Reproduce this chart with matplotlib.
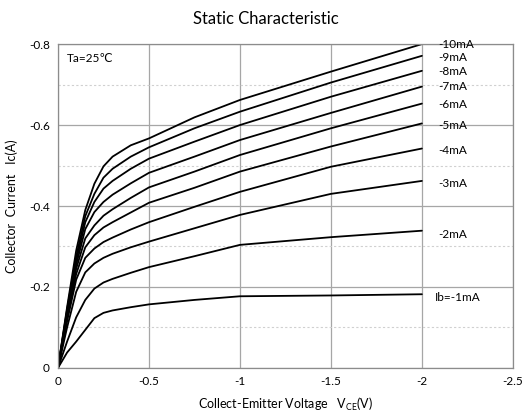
import matplotlib.pyplot as plt
from matplotlib.ticker import FuncFormatter, MultipleLocator

plt.rcParams['font.family'] = ['Lato', 'DejaVu Sans']
plt.rcParams['axes.unicode_minus'] = False
plt.rcParams['mathtext.default'] = 'regular'

# collector-emitter voltage (V), plotted as negative values
vce = [0, 0.05, 0.1, 0.15, 0.2, 0.25, 0.3, 0.4, 0.5, 0.75, 1.0, 1.5, 2.0]

# collector current (A) for each base current
ic_1mA = [0, 0.038, 0.065, 0.094, 0.123, 0.136, 0.142, 0.150, 0.157, 0.168, 0.177, 0.179, 0.182]
ic_2mA = [0, 0.065, 0.125, 0.168, 0.196, 0.211, 0.220, 0.235, 0.249, 0.276, 0.304, 0.323, 0.339]
ic_3mA = [0, 0.100, 0.188, 0.236, 0.258, 0.272, 0.282, 0.298, 0.312, 0.345, 0.378, 0.430, 0.462]
ic_4mA = [0, 0.115, 0.218, 0.272, 0.295, 0.311, 0.322, 0.342, 0.360, 0.398, 0.435, 0.497, 0.542]
ic_5mA = [0, 0.125, 0.232, 0.298, 0.328, 0.347, 0.360, 0.384, 0.408, 0.445, 0.485, 0.547, 0.604]
ic_6mA = [0, 0.130, 0.245, 0.320, 0.352, 0.376, 0.392, 0.420, 0.446, 0.485, 0.526, 0.592, 0.653]
ic_7mA = [0, 0.135, 0.255, 0.343, 0.385, 0.410, 0.428, 0.456, 0.482, 0.522, 0.563, 0.630, 0.695]
ic_8mA = [0, 0.140, 0.265, 0.360, 0.410, 0.443, 0.462, 0.492, 0.517, 0.559, 0.600, 0.670, 0.734]
ic_9mA = [0, 0.145, 0.275, 0.375, 0.430, 0.470, 0.492, 0.522, 0.545, 0.592, 0.633, 0.705, 0.771]
ic_10mA = [0, 0.150, 0.290, 0.390, 0.455, 0.498, 0.522, 0.550, 0.567, 0.619, 0.662, 0.732, 0.800]

curves = [ic_1mA, ic_2mA, ic_3mA, ic_4mA, ic_5mA, ic_6mA, ic_7mA, ic_8mA, ic_9mA, ic_10mA]
labels = ['Ib=-1mA', '-2mA', '-3mA', '-4mA', '-5mA', '-6mA', '-7mA', '-8mA', '-9mA', '-10mA']
label_y = [-0.175, -0.33, -0.455, -0.538, -0.600, -0.650, -0.696, -0.732, -0.768, -0.798]

fig = plt.figure(figsize=(5.32, 4.2), dpi=100)
ax = fig.add_axes([0.109, 0.124, 0.855, 0.771])

for ic in curves:
    ax.plot([-v for v in vce], [-i for i in ic], color='black', lw=1.3,
            solid_capstyle='round', solid_joinstyle='round')

for lab, y in zip(labels, label_y):
    x = -2.07 if lab.startswith('Ib') else -2.09
    ax.text(x, y, lab, fontsize=8.5, ha='left', va='center')

ax.text(-0.05, -0.765, 'Ta=25\u2103', fontsize=8.5, ha='left', va='center')

ax.set_xlim(0, -2.5)
ax.set_ylim(0, -0.8)
ax.xaxis.set_major_locator(MultipleLocator(0.5))
ax.yaxis.set_major_locator(MultipleLocator(0.2))
ax.yaxis.set_minor_locator(MultipleLocator(0.1))

fmt = FuncFormatter(lambda v, p: '0' if abs(v) < 1e-9 else '{:g}'.format(v))
ax.xaxis.set_major_formatter(fmt)
ax.yaxis.set_major_formatter(fmt)

ax.grid(which='major', color='#a6a6a6', lw=0.9)
ax.grid(which='minor', axis='y', color='#d0d0d0', lw=0.8, ls=(0, (2, 2)))
ax.set_axisbelow(True)
for s in ax.spines.values():
    s.set_color('#8c8c8c')
    s.set_linewidth(0.9)
ax.tick_params(which='both', length=0, labelsize=8.5)
ax.tick_params(axis='y', pad=6)
ax.tick_params(axis='x', pad=6)

ax.set_xlabel('Collect-Emitter Voltage   V$_{CE}$(V)', fontsize=9, labelpad=6)
ax.set_ylabel('Collector  Current   Ic(A)', fontsize=9, labelpad=8)
fig.text(0.5, 0.955, 'Static Characteristic', fontsize=12, ha='center', va='center')

fig.savefig('out.png', dpi=100)
